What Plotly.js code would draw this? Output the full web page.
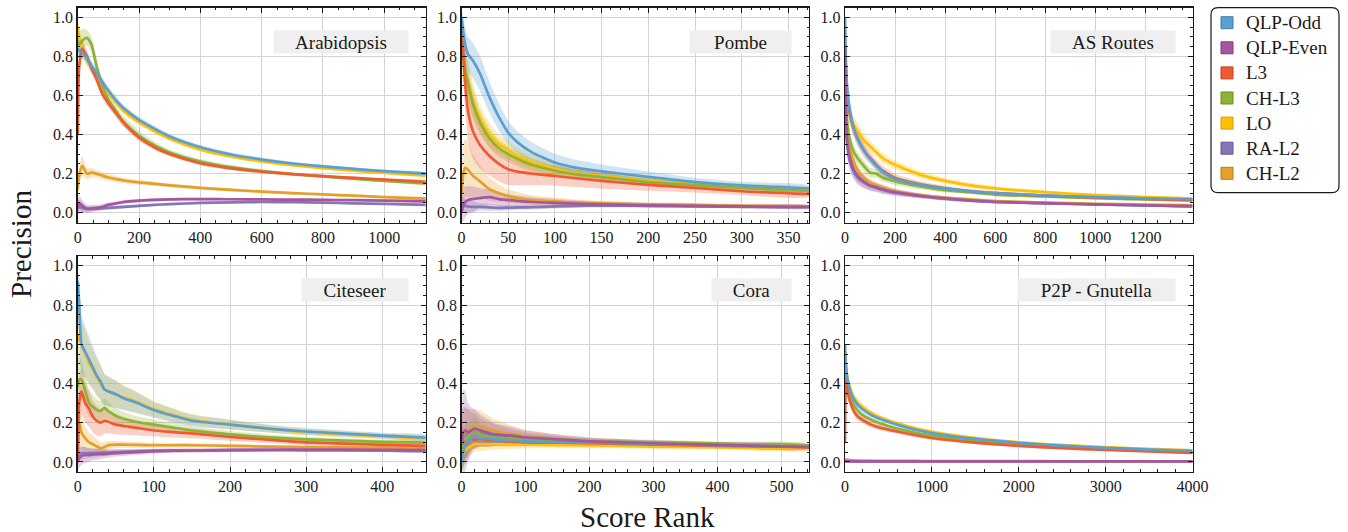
<!DOCTYPE html>
<html>
<head>
<meta charset="utf-8">
<script src="https://cdn.plot.ly/plotly-3.0.1.min.js"></script>
<style>html,body{margin:0;padding:0;background:#fff}#chart{width:1348px;height:532px}</style>
</head>
<body>
<div id="chart"></div>
<script>
// ---------------- DATA ----------------
const seriesNames = ['QLP-Odd','QLP-Even','L3','CH-L3','LO','RA-L2','CH-L2'];
const panelTitles = ['Arabidopsis','Pombe','AS Routes','Citeseer','Cora','P2P - Gnutella'];

// Arabidopsis
const araX = [0,5,15,30,45,60,80,100,125,150,200,250,300,400,500,600,700,800,900,1000,1135];
const araQlpOdd = [0.84,0.83,0.82,0.79,0.75,0.72,0.67,0.625,0.575,0.535,0.475,0.43,0.39,0.335,0.298,0.272,0.252,0.237,0.224,0.213,0.2];
const araQlpEven = [0.02,0.05,0.035,0.02,0.022,0.025,0.03,0.04,0.048,0.055,0.062,0.066,0.068,0.07,0.069,0.068,0.067,0.066,0.064,0.062,0.058];
const araL3 = [0.4,0.75,0.84,0.8,0.74,0.69,0.61,0.56,0.51,0.46,0.385,0.335,0.3,0.253,0.227,0.21,0.197,0.187,0.178,0.17,0.158];
const araChL3 = [0.88,0.86,0.88,0.895,0.86,0.76,0.65,0.58,0.52,0.465,0.395,0.345,0.308,0.262,0.233,0.213,0.198,0.186,0.174,0.163,0.15];
const araLO = [0.95,0.9,0.84,0.78,0.74,0.71,0.66,0.615,0.565,0.52,0.462,0.418,0.378,0.323,0.288,0.262,0.243,0.228,0.215,0.204,0.19];
const araRaL2 = [0.03,0.03,0.025,0.02,0.02,0.02,0.022,0.025,0.027,0.03,0.035,0.04,0.044,0.05,0.053,0.055,0.054,0.052,0.048,0.045,0.04];
const araChL2 = [0.12,0.19,0.24,0.2,0.205,0.2,0.19,0.18,0.172,0.165,0.155,0.148,0.14,0.127,0.117,0.108,0.1,0.094,0.087,0.08,0.072];
const araQlpOddSd = [0.05,0.04,0.035,0.03,0.025,0.025,0.022,0.02,0.02,0.018,0.016,0.015,0.013,0.012,0.011,0.01,0.009,0.008,0.008,0.007,0.007];
const araQlpEvenSd = [0.04,0.04,0.03,0.02,0.02,0.015,0.015,0.012,0.01,0.01,0.009,0.008,0.007,0.006,0.006,0.005,0.005,0.005,0.005,0.005,0.005];
const araL3Sd = [0.1,0.06,0.04,0.03,0.03,0.025,0.025,0.022,0.02,0.018,0.016,0.014,0.012,0.01,0.009,0.008,0.008,0.007,0.007,0.006,0.006];
const araChL3Sd = [0.08,0.07,0.06,0.04,0.04,0.035,0.03,0.03,0.03,0.028,0.025,0.02,0.016,0.013,0.011,0.01,0.009,0.008,0.008,0.007,0.007];
const araLOSd = [0.06,0.05,0.04,0.03,0.025,0.02,0.02,0.018,0.016,0.015,0.013,0.012,0.011,0.01,0.009,0.008,0.008,0.007,0.007,0.006,0.006];
const araRaL2Sd = [0.04,0.035,0.025,0.015,0.012,0.01,0.01,0.01,0.009,0.008,0.007,0.006,0.006,0.005,0.005,0.005,0.004,0.004,0.004,0.004,0.004];
const araChL2Sd = [0.05,0.05,0.05,0.03,0.025,0.02,0.02,0.018,0.016,0.014,0.012,0.011,0.01,0.009,0.008,0.007,0.007,0.006,0.006,0.005,0.005];

// Pombe
const pomX = [0,2,4,7,12,20,30,40,50,60,75,100,125,150,200,250,300,372];
const pomQlpOdd = [1.0,0.92,0.86,0.81,0.78,0.71,0.59,0.49,0.41,0.36,0.31,0.257,0.228,0.212,0.183,0.157,0.14,0.125];
const pomQlpEven = [0.0,0.04,0.055,0.065,0.07,0.075,0.08,0.07,0.065,0.06,0.055,0.05,0.046,0.043,0.038,0.035,0.032,0.03];
const pomL3 = [1.0,0.82,0.66,0.52,0.42,0.345,0.29,0.25,0.222,0.21,0.2,0.188,0.175,0.163,0.142,0.127,0.11,0.095];
const pomChL3 = [0.86,0.79,0.73,0.66,0.56,0.46,0.38,0.33,0.3,0.275,0.245,0.215,0.195,0.182,0.157,0.142,0.127,0.112];
const pomLO = [0.82,0.77,0.73,0.68,0.58,0.48,0.4,0.35,0.32,0.29,0.26,0.225,0.2,0.188,0.163,0.147,0.133,0.118];
const pomRaL2 = [0.05,0.04,0.035,0.032,0.03,0.03,0.027,0.025,0.026,0.027,0.028,0.032,0.035,0.036,0.035,0.033,0.03,0.028];
const pomChL2 = [0.1,0.2,0.23,0.22,0.19,0.16,0.12,0.1,0.085,0.075,0.065,0.058,0.052,0.048,0.043,0.04,0.036,0.032];
const pomQlpOddSd = [0.05,0.08,0.09,0.09,0.09,0.09,0.08,0.07,0.06,0.055,0.05,0.045,0.04,0.035,0.028,0.022,0.018,0.015];
const pomQlpEvenSd = [0.05,0.08,0.08,0.07,0.065,0.05,0.04,0.035,0.03,0.028,0.025,0.02,0.017,0.015,0.012,0.01,0.009,0.008];
const pomL3Sd = [0.05,0.12,0.15,0.15,0.14,0.12,0.1,0.09,0.08,0.07,0.06,0.05,0.045,0.04,0.03,0.025,0.02,0.015];
const pomChL3Sd = [0.1,0.1,0.095,0.09,0.075,0.06,0.05,0.045,0.04,0.038,0.035,0.03,0.025,0.022,0.018,0.015,0.013,0.011];
const pomLOSd = [0.1,0.12,0.12,0.11,0.09,0.07,0.06,0.05,0.045,0.042,0.04,0.035,0.03,0.025,0.02,0.018,0.015,0.012];
const pomRaL2Sd = [0.04,0.04,0.035,0.032,0.028,0.02,0.018,0.016,0.014,0.013,0.012,0.01,0.009,0.008,0.007,0.006,0.006,0.005];
const pomChL2Sd = [0.08,0.15,0.15,0.14,0.11,0.08,0.06,0.045,0.035,0.03,0.025,0.02,0.015,0.013,0.01,0.009,0.008,0.007];

// AS Routes
const asX = [0,5,10,20,35,50,75,100,125,150,200,300,400,500,600,800,1000,1200,1388];
const asQlpOdd = [1.0,0.72,0.62,0.52,0.43,0.38,0.32,0.275,0.24,0.21,0.172,0.143,0.123,0.11,0.1,0.088,0.08,0.074,0.069];
const asQlpEven = [0.85,0.45,0.36,0.28,0.22,0.19,0.16,0.14,0.13,0.12,0.105,0.087,0.073,0.063,0.056,0.049,0.043,0.038,0.034];
const asL3 = [0.85,0.7,0.6,0.5,0.43,0.38,0.32,0.28,0.245,0.215,0.178,0.145,0.125,0.11,0.1,0.087,0.078,0.071,0.065];
const asChL3 = [0.75,0.55,0.45,0.37,0.31,0.28,0.24,0.205,0.2,0.18,0.16,0.135,0.115,0.105,0.093,0.083,0.074,0.068,0.063];
const asLO = [0.8,0.65,0.57,0.5,0.45,0.42,0.37,0.34,0.31,0.28,0.245,0.195,0.163,0.14,0.125,0.105,0.09,0.08,0.072];
const asRaL2 = [0.7,0.4,0.33,0.26,0.21,0.18,0.155,0.137,0.127,0.117,0.102,0.085,0.072,0.062,0.055,0.048,0.042,0.037,0.033];
const asChL2 = [0.8,0.5,0.4,0.32,0.26,0.22,0.18,0.155,0.14,0.128,0.11,0.09,0.077,0.068,0.06,0.052,0.046,0.042,0.038];
const asQlpOddSd = [0.02,0.06,0.05,0.04,0.035,0.03,0.025,0.022,0.02,0.018,0.015,0.012,0.01,0.009,0.008,0.007,0.006,0.006,0.005];
const asQlpEvenSd = [0.05,0.07,0.06,0.05,0.04,0.035,0.03,0.025,0.022,0.02,0.016,0.012,0.01,0.009,0.008,0.007,0.006,0.005,0.005];
const asL3Sd = [0.05,0.07,0.06,0.05,0.045,0.04,0.035,0.03,0.027,0.025,0.02,0.016,0.013,0.011,0.01,0.008,0.007,0.006,0.006];
const asChL3Sd = [0.05,0.06,0.05,0.04,0.035,0.03,0.028,0.025,0.022,0.02,0.018,0.015,0.012,0.01,0.009,0.008,0.007,0.006,0.005];
const asLOSd = [0.05,0.07,0.06,0.05,0.045,0.04,0.035,0.03,0.027,0.025,0.022,0.018,0.015,0.013,0.011,0.009,0.008,0.007,0.006];
const asRaL2Sd = [0.05,0.07,0.06,0.05,0.04,0.035,0.03,0.025,0.022,0.02,0.016,0.012,0.01,0.009,0.008,0.007,0.006,0.005,0.005];
const asChL2Sd = [0.05,0.06,0.05,0.04,0.035,0.03,0.025,0.02,0.018,0.016,0.013,0.01,0.009,0.008,0.007,0.006,0.005,0.005,0.005];

// Citeseer
const citX = [0,2,5,10,15,20,25,30,35,40,50,60,75,100,125,150,200,250,300,400,457];
const citQlpOdd = [0.92,0.8,0.6,0.56,0.52,0.48,0.44,0.41,0.37,0.36,0.345,0.325,0.305,0.265,0.235,0.21,0.19,0.17,0.155,0.134,0.124];
const citQlpEven = [0.0,0.02,0.03,0.035,0.035,0.038,0.039,0.04,0.04,0.042,0.045,0.047,0.05,0.055,0.057,0.058,0.06,0.062,0.063,0.062,0.06];
const citL3 = [0.0,0.3,0.36,0.3,0.27,0.23,0.21,0.2,0.21,0.205,0.19,0.183,0.175,0.16,0.152,0.145,0.127,0.113,0.1,0.087,0.082];
const citChL3 = [0.38,0.42,0.42,0.36,0.3,0.28,0.265,0.26,0.275,0.26,0.235,0.22,0.205,0.19,0.175,0.16,0.14,0.125,0.115,0.102,0.098];
const citLO = [0.65,0.62,0.6,0.55,0.5,0.47,0.43,0.4,0.37,0.36,0.345,0.33,0.31,0.27,0.24,0.215,0.19,0.17,0.152,0.13,0.12];
const citRaL2 = [0.02,0.04,0.045,0.045,0.045,0.045,0.046,0.047,0.048,0.048,0.05,0.051,0.053,0.056,0.057,0.058,0.06,0.06,0.059,0.057,0.055];
const citChL2 = [0.0,0.2,0.15,0.12,0.1,0.09,0.08,0.07,0.075,0.085,0.088,0.088,0.087,0.085,0.085,0.085,0.082,0.078,0.075,0.073,0.07];
const citQlpOddSd = [0.05,0.15,0.15,0.13,0.12,0.11,0.1,0.09,0.08,0.075,0.07,0.062,0.055,0.04,0.035,0.03,0.025,0.02,0.018,0.015,0.013];
const citQlpEvenSd = [0.04,0.05,0.045,0.04,0.035,0.03,0.028,0.025,0.022,0.02,0.018,0.017,0.015,0.012,0.011,0.01,0.009,0.008,0.008,0.007,0.007];
const citL3Sd = [0.05,0.12,0.12,0.1,0.09,0.08,0.075,0.07,0.065,0.06,0.05,0.045,0.04,0.03,0.027,0.025,0.02,0.017,0.015,0.012,0.011];
const citChL3Sd = [0.1,0.12,0.1,0.08,0.07,0.06,0.055,0.05,0.05,0.045,0.04,0.035,0.03,0.025,0.022,0.02,0.017,0.015,0.013,0.011,0.01];
const citLOSd = [0.1,0.12,0.12,0.12,0.11,0.1,0.095,0.09,0.08,0.075,0.07,0.062,0.055,0.04,0.035,0.03,0.025,0.02,0.018,0.015,0.013];
const citRaL2Sd = [0.04,0.04,0.035,0.03,0.025,0.022,0.021,0.02,0.018,0.016,0.014,0.013,0.012,0.01,0.009,0.009,0.008,0.007,0.007,0.006,0.006];
const citChL2Sd = [0.05,0.1,0.08,0.06,0.05,0.045,0.035,0.03,0.025,0.02,0.018,0.016,0.015,0.012,0.011,0.01,0.009,0.008,0.008,0.007,0.007];

// Cora
const corX = [0,3,6,10,15,20,30,40,50,75,100,150,200,300,400,543];
const corQlpOdd = [0.0,0.05,0.09,0.1,0.12,0.13,0.12,0.12,0.115,0.11,0.105,0.1,0.098,0.092,0.085,0.078];
const corQlpEven = [0.1,0.15,0.16,0.15,0.16,0.17,0.16,0.15,0.14,0.135,0.125,0.115,0.105,0.095,0.087,0.075];
const corL3 = [0.14,0.1,0.09,0.1,0.12,0.11,0.12,0.11,0.11,0.105,0.1,0.098,0.095,0.088,0.082,0.075];
const corChL3 = [0.0,0.08,0.11,0.13,0.15,0.165,0.14,0.13,0.125,0.12,0.115,0.11,0.105,0.1,0.093,0.083];
const corLO = [0.0,0.04,0.06,0.07,0.08,0.09,0.09,0.09,0.09,0.09,0.088,0.086,0.084,0.078,0.074,0.068];
const corRaL2 = [0.15,0.13,0.14,0.15,0.155,0.16,0.15,0.145,0.14,0.13,0.12,0.11,0.1,0.092,0.085,0.073];
const corChL2 = [0.1,0.14,0.15,0.16,0.17,0.18,0.18,0.17,0.16,0.145,0.13,0.115,0.105,0.095,0.088,0.078];
const corQlpOddSd = [0.05,0.08,0.08,0.07,0.06,0.05,0.045,0.04,0.035,0.028,0.022,0.018,0.015,0.012,0.01,0.009];
const corQlpEvenSd = [0.1,0.22,0.2,0.15,0.12,0.1,0.08,0.07,0.06,0.045,0.035,0.025,0.02,0.015,0.013,0.011];
const corL3Sd = [0.05,0.08,0.07,0.06,0.05,0.045,0.04,0.035,0.03,0.025,0.02,0.016,0.014,0.012,0.01,0.009];
const corChL3Sd = [0.05,0.08,0.08,0.07,0.06,0.06,0.05,0.045,0.04,0.03,0.025,0.02,0.016,0.013,0.011,0.01];
const corLOSd = [0.05,0.07,0.06,0.05,0.045,0.04,0.035,0.03,0.028,0.024,0.02,0.017,0.015,0.013,0.011,0.01];
const corRaL2Sd = [0.1,0.15,0.14,0.12,0.1,0.09,0.07,0.06,0.055,0.04,0.03,0.022,0.018,0.014,0.012,0.01];
const corChL2Sd = [0.1,0.12,0.12,0.11,0.1,0.09,0.08,0.07,0.06,0.045,0.035,0.025,0.02,0.015,0.013,0.011];

// P2P - Gnutella
const p2pX = [0,10,25,50,100,150,200,300,400,600,800,1000,1500,2000,2500,3000,3500,4000];
const p2pQlpOdd = [0.6,0.5,0.43,0.38,0.32,0.29,0.27,0.24,0.22,0.19,0.165,0.147,0.117,0.097,0.083,0.072,0.063,0.056];
const p2pQlpEven = [0.004,0.004,0.004,0.004,0.003,0.003,0.003,0.003,0.003,0.003,0.003,0.003,0.003,0.003,0.003,0.003,0.003,0.003];
const p2pL3 = [0.1,0.42,0.37,0.32,0.26,0.23,0.215,0.19,0.175,0.155,0.137,0.122,0.098,0.082,0.07,0.061,0.053,0.046];
const p2pChL3 = [0.45,0.42,0.38,0.34,0.29,0.26,0.24,0.215,0.197,0.17,0.15,0.134,0.108,0.09,0.077,0.067,0.059,0.052];
const p2pLO = [0.55,0.5,0.44,0.39,0.33,0.3,0.28,0.25,0.228,0.197,0.172,0.153,0.122,0.1,0.086,0.075,0.066,0.059];
const p2pRaL2 = [0.003,0.003,0.003,0.003,0.003,0.003,0.003,0.003,0.003,0.003,0.003,0.003,0.003,0.003,0.003,0.003,0.003,0.003];
const p2pChL2 = [0.015,0.012,0.01,0.009,0.008,0.007,0.006,0.006,0.005,0.005,0.005,0.004,0.004,0.004,0.003,0.003,0.003,0.003];
const p2pQlpOddSd = [0.03,0.03,0.025,0.02,0.02,0.017,0.015,0.013,0.012,0.01,0.009,0.008,0.007,0.006,0.005,0.005,0.004,0.004];
const p2pQlpEvenSd = [0.003,0.003,0.003,0.002,0.002,0.002,0.002,0.002,0.002,0.002,0.002,0.002,0.002,0.002,0.002,0.002,0.002,0.002];
const p2pL3Sd = [0.05,0.04,0.03,0.025,0.022,0.02,0.018,0.015,0.013,0.011,0.01,0.009,0.008,0.007,0.006,0.005,0.005,0.004];
const p2pChL3Sd = [0.03,0.03,0.025,0.02,0.02,0.017,0.015,0.013,0.012,0.01,0.009,0.008,0.007,0.006,0.005,0.005,0.004,0.004];
const p2pLOSd = [0.04,0.03,0.03,0.025,0.022,0.02,0.018,0.015,0.013,0.011,0.01,0.009,0.008,0.007,0.006,0.005,0.005,0.004];
const p2pRaL2Sd = [0.003,0.003,0.003,0.002,0.002,0.002,0.002,0.002,0.002,0.002,0.002,0.002,0.002,0.002,0.002,0.002,0.002,0.002];
const p2pChL2Sd = [0.008,0.006,0.005,0.004,0.004,0.003,0.003,0.003,0.003,0.002,0.002,0.002,0.002,0.002,0.002,0.002,0.002,0.002];

// ---------------- STYLE / BUILD ----------------
const colors = {
  'QLP-Odd':'#5b9fd0','QLP-Even':'#a4579f','L3':'#ee5b32','CH-L3':'#8cb336',
  'LO':'#fec000','RA-L2':'#8776b6','CH-L2':'#e3a02a'
};
const borderColors = {
  'QLP-Odd':'#3f7fb0','QLP-Even':'#7f3a7b','L3':'#c9411c','CH-L3':'#6b8c22',
  'LO':'#d39e00','RA-L2':'#65559a','CH-L2':'#b97d14'
};
function rgba(hex,a){const n=parseInt(hex.slice(1),16);return `rgba(${(n>>16)&255},${(n>>8)&255},${n&255},${a})`;}

const panels = [
  {x:araX, xmax:1135, dtick:200, minor:50, s:{'QLP-Odd':[araQlpOdd,araQlpOddSd],'QLP-Even':[araQlpEven,araQlpEvenSd],'L3':[araL3,araL3Sd],'CH-L3':[araChL3,araChL3Sd],'LO':[araLO,araLOSd],'RA-L2':[araRaL2,araRaL2Sd],'CH-L2':[araChL2,araChL2Sd]}, boxW:134},
  {x:pomX, xmax:372, dtick:50, minor:10, s:{'QLP-Odd':[pomQlpOdd,pomQlpOddSd],'QLP-Even':[pomQlpEven,pomQlpEvenSd],'L3':[pomL3,pomL3Sd],'CH-L3':[pomChL3,pomChL3Sd],'LO':[pomLO,pomLOSd],'RA-L2':[pomRaL2,pomRaL2Sd],'CH-L2':[pomChL2,pomChL2Sd]}, boxW:101},
  {x:asX, xmax:1388, dtick:200, minor:50, s:{'QLP-Odd':[asQlpOdd,asQlpOddSd],'QLP-Even':[asQlpEven,asQlpEvenSd],'L3':[asL3,asL3Sd],'CH-L3':[asChL3,asChL3Sd],'LO':[asLO,asLOSd],'RA-L2':[asRaL2,asRaL2Sd],'CH-L2':[asChL2,asChL2Sd]}, boxW:124},
  {x:citX, xmax:457, dtick:100, minor:20, s:{'QLP-Odd':[citQlpOdd,citQlpOddSd],'QLP-Even':[citQlpEven,citQlpEvenSd],'L3':[citL3,citL3Sd],'CH-L3':[citChL3,citChL3Sd],'LO':[citLO,citLOSd],'RA-L2':[citRaL2,citRaL2Sd],'CH-L2':[citChL2,citChL2Sd]}, boxW:106},
  {x:corX, xmax:543, dtick:100, minor:20, s:{'QLP-Odd':[corQlpOdd,corQlpOddSd],'QLP-Even':[corQlpEven,corQlpEvenSd],'L3':[corL3,corL3Sd],'CH-L3':[corChL3,corChL3Sd],'LO':[corLO,corLOSd],'RA-L2':[corRaL2,corRaL2Sd],'CH-L2':[corChL2,corChL2Sd]}, boxW:79},
  {x:p2pX, xmax:4000, dtick:1000, minor:200, s:{'QLP-Odd':[p2pQlpOdd,p2pQlpOddSd],'QLP-Even':[p2pQlpEven,p2pQlpEvenSd],'L3':[p2pL3,p2pL3Sd],'CH-L3':[p2pChL3,p2pChL3Sd],'LO':[p2pLO,p2pLOSd],'RA-L2':[p2pRaL2,p2pRaL2Sd],'CH-L2':[p2pChL2,p2pChL2Sd]}, boxW:157}
];

const drawOrder = ['RA-L2','CH-L2','LO','CH-L3','L3','QLP-Odd','QLP-Even'];
const W = 1348, H = 532;
const colPx = [[77.7,425.7],[461.5,809],[845,1192.5]];
const rowPx = [[7.5,222.5],[256,471.7]];
const FONT = 'Liberation Serif';
const INK = '#1a1a1a';

const traces = [];
const layout = {
  width: W, height: H, margin:{l:0,r:0,t:0,b:0},
  paper_bgcolor:'#ffffff', plot_bgcolor:'#ffffff',
  font:{family:FONT, color:INK, size:16},
  showlegend:false,
  annotations:[], shapes:[]
};

panels.forEach((p,i)=>{
  const k = i+1;
  const xa = 'x'+(k===1?'':k), ya = 'y'+(k===1?'':k);
  const col = i%3, row = Math.floor(i/3);
  const common = {
    ticks:'inside', ticklen:5, tickwidth:1, tickcolor:INK,
    showline:true, linecolor:INK, linewidth:1.4, mirror:'allticks',
    showgrid:true, gridcolor:'#d3d3d3', gridwidth:1, zeroline:false,
    tickfont:{family:FONT, size:16, color:INK}
  };
  layout['xaxis'+(k===1?'':k)] = Object.assign({
    domain:[colPx[col][0]/W, colPx[col][1]/W], anchor:ya, range:[0,p.xmax],
    tick0:0, dtick:p.dtick,
    minor:{dtick:p.minor, tick0:0, ticks:'inside', ticklen:2.5, tickwidth:1, tickcolor:INK, showgrid:false}
  }, common);
  layout['yaxis'+(k===1?'':k)] = Object.assign({
    domain:[1-rowPx[row][1]/H, 1-rowPx[row][0]/H], anchor:xa, range:[-0.05,1.05],
    tick0:0, dtick:0.2, tickformat:'.1f',
    minor:{dtick:0.05, tick0:0, ticks:'inside', ticklen:2.5, tickwidth:1, tickcolor:INK, showgrid:false}
  }, common);

  drawOrder.forEach(name=>{
    const [m, sd] = p.s[name];
    const up = m.map((v,j)=>v+sd[j]);
    const lo = m.map((v,j)=>v-sd[j]);
    traces.push({
      type:'scatter', mode:'lines', xaxis:xa, yaxis:ya,
      x: p.x.concat(p.x.slice().reverse()),
      y: up.concat(lo.slice().reverse()),
      fill:'toself', fillcolor: rgba(colors[name],0.28),
      line:{width:0, color:'rgba(0,0,0,0)', shape:'spline', smoothing:0.6}, hoverinfo:'skip', showlegend:false
    });
  });
  drawOrder.forEach(name=>{
    const [m] = p.s[name];
    traces.push({
      type:'scatter', mode:'lines', xaxis:xa, yaxis:ya, x:p.x, y:m,
      line:{color:colors[name], width:2.7, shape:'spline', smoothing:0.6}, showlegend:false, name:name
    });
  });

  layout.annotations.push({
    xref:xa+' domain', yref:ya+' domain', x:1, y:1, xanchor:'right', yanchor:'top',
    xshift:-17, yshift:-22, text:panelTitles[i], showarrow:false,
    bgcolor:'#efefef', width:p.boxW, height:22, borderpad:0, align:'center',
    font:{family:FONT, size:19, color:INK}
  });
});

// manual legend
const legTop = 22.7, legStep = 25.1;
seriesNames.forEach((name,j)=>{
  const cy = legTop + j*legStep;
  layout.shapes.push({
    type:'rect', xref:'paper', yref:'paper',
    x0:1221/W, x1:1233/W, y0:1-(cy+6)/H, y1:1-(cy-6)/H,
    fillcolor:colors[name], line:{color:borderColors[name], width:1}
  });
  layout.annotations.push({
    xref:'paper', yref:'paper', x:1244/W, y:1-cy/H, xanchor:'left', yanchor:'middle',
    text:name, showarrow:false, font:{family:FONT, size:19, color:INK}
  });
});
(function(){
  const x0=1211/W, x1=1339/W, y0=1-192.7/H, y1=1-7.7/H, rx=7/W, ry=7/H;
  layout.shapes.push({
    type:'path', xref:'paper', yref:'paper',
    path:`M ${x0+rx},${y1} L ${x1-rx},${y1} Q ${x1},${y1} ${x1},${y1-ry} L ${x1},${y0+ry} Q ${x1},${y0} ${x1-rx},${y0} L ${x0+rx},${y0} Q ${x0},${y0} ${x0},${y0+ry} L ${x0},${y1-ry} Q ${x0},${y1} ${x0+rx},${y1} Z`,
    line:{color:INK, width:1.2}, fillcolor:'rgba(0,0,0,0)'
  });
})();

layout.annotations.push({
  xref:'paper', yref:'paper', x:21/W, y:1-244/H, text:'Precision', textangle:-90,
  showarrow:false, xanchor:'center', yanchor:'middle', font:{family:FONT, size:29, color:INK}
});
layout.annotations.push({
  xref:'paper', yref:'paper', x:647/W, y:1-517/H, text:'Score Rank',
  showarrow:false, xanchor:'center', yanchor:'middle', font:{family:FONT, size:29, color:INK}
});

Plotly.newPlot('chart', traces, layout, {staticPlot:true, displayModeBar:false});
</script>
</body>
</html>
